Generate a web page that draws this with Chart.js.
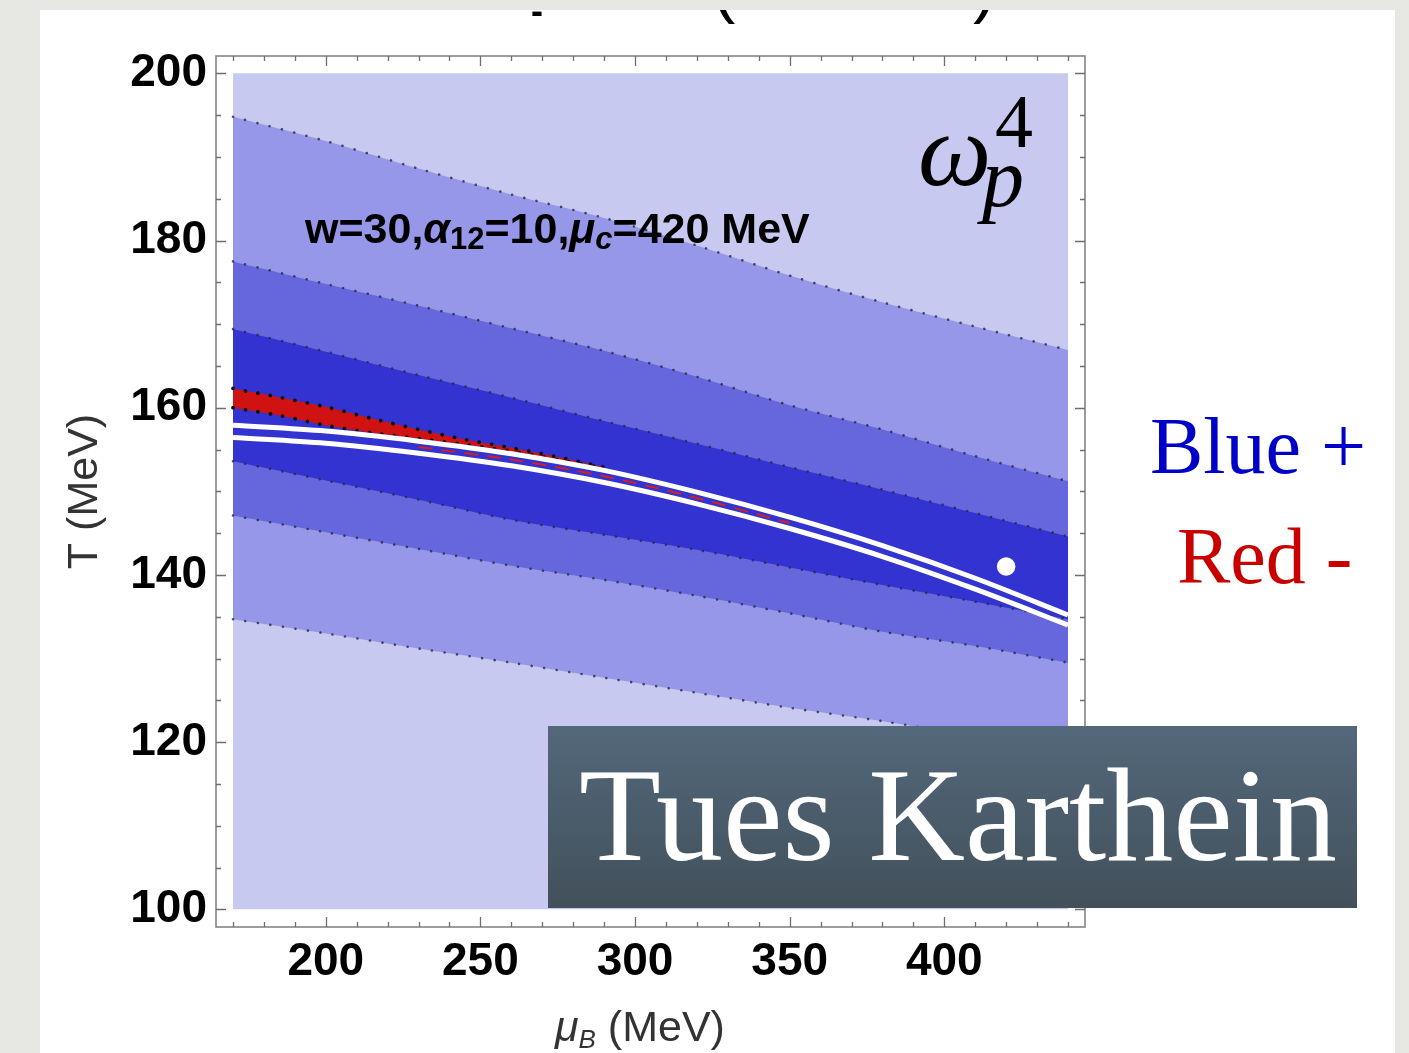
<!DOCTYPE html>
<html>
<head>
<meta charset="utf-8">
<title>omega_p^4 contour</title>
<script src="https://cdn.jsdelivr.net/npm/chart.js@4.4.1/dist/chart.umd.min.js"></script>
<style>
html, body { margin: 0; padding: 0; }
body { width: 1409px; height: 1053px; background: #e7e7e3; position: relative; overflow: hidden; }
#card { position: absolute; left: 40px; top: 10px; width: 1355px; height: 1043px; background: #fff; }
#plot { position: absolute; left: 0; top: 0; }
</style>
</head>
<body>
<div id="card"></div>
<canvas id="plot" width="1409" height="1053"></canvas>
<script>
// contour edges: T (MeV) at each mu_B (MeV)
var mu = [170, 200, 230, 260, 290, 320, 350, 380, 410, 440];
var edge1 = [194.8, 191.9, 188.6, 185.5, 182.7, 179.4, 175.8, 172.6, 169.7, 166.9];
var edge2 = [177.5, 174.8, 172.2, 169.5, 166.8, 163.7, 160.3, 157.4, 154.2, 151.2];
var edge3 = [169.4, 166.7, 163.9, 161.2, 158.4, 155.7, 152.9, 150.2, 147.4, 144.6];
var edge4 = [153.6, 151.3, 149.0, 146.6, 144.8, 143.0, 140.9, 138.8, 136.8, 134.7];
var edge5 = [147.1, 145.1, 143.1, 141.1, 139.4, 137.5, 135.4, 133.2, 131.5, 129.5];
var edge6 = [134.7, 133.0, 131.2, 129.5, 127.7, 125.9, 124.1, 122.5, 120.7, 119.0];
var whiteUpper = [157.9, 157.2, 156.0, 154.5, 152.5, 149.9, 146.9, 143.5, 139.6, 135.2];
var whiteLower = [156.45, 155.75, 154.55, 153.05, 151.05, 148.5, 145.55, 142.2, 138.3, 134.0];
// red (negative) sliver
var muRed = [170, 185, 200, 215, 230, 245, 260, 275, 290];
var redTop = [162.3, 161.25, 160.1, 158.7, 157.4, 156.2, 155.2, 154.1, 152.9];
var redBottom = [160.0, 159.07, 157.9, 157.0, 156.3, 155.6, 154.8, 153.8, 152.8];
var muGap = [230, 260, 290, 320, 350];
var redGap = [155.3, 153.8, 151.8, 149.2, 146.2];
var critical = {mu: 420, T: 141};
var muRange = [170, 440];
var TRange = [100, 200];
var xTicks = [200, 250, 300, 350, 400];
var yTicks = [100, 120, 140, 160, 180, 200];

var SANS = "'Liberation Sans', Arial, sans-serif";
var SERIF = "'Liberation Serif', 'Times New Roman', serif";
var lightest = '#c8c9f1', light = '#9697e9', medium = '#6666dd', dark = '#3333d2', red = '#d01212';

function pts(xs, ys) {
  return xs.map(function(x, i) { return {x: x, y: ys[i]}; });
}
function edge(xs, ys, fillTo, color, order) {
  return {
    data: pts(xs, ys),
    fill: fillTo,
    backgroundColor: color,
    borderColor: 'rgba(40,40,60,0.8)',
    borderWidth: 2.6,
    borderDash: [0.1, 12.5],
    borderCapStyle: 'round',
    pointRadius: 0,
    tension: 0.3,
    order: order
  };
}

var sets = [];
sets.push({ // 0: plot background
  data: pts(muRange, [TRange[1], TRange[1]]), fill: {value: TRange[0]},
  backgroundColor: lightest, borderWidth: 0, pointRadius: 0, order: 100
});
sets.push(edge(mu, edge1, 6, light, 90));   // 1
sets.push(edge(mu, edge2, 5, medium, 80));  // 2
sets.push(edge(mu, edge3, 4, dark, 70));    // 3
sets.push(edge(mu, edge4, false, dark, 60)); // 4
sets.push(edge(mu, edge5, false, dark, 60)); // 5
sets.push(edge(mu, edge6, false, dark, 60)); // 6
var rt = edge(muRed, redTop, 8, red, 50);   // 7
rt.borderColor = '#111'; rt.borderWidth = 3.8;
sets.push(rt);
var rb = edge(muRed, redBottom, false, red, 45); // 8
rb.borderColor = '#111'; rb.borderWidth = 3.8;
sets.push(rb);
sets.push({data: pts(mu, whiteUpper), borderColor: '#fff', borderWidth: 5, pointRadius: 0, cubicInterpolationMode: 'monotone', fill: false, order: 30});
sets.push({data: pts(mu, whiteLower), borderColor: '#fff', borderWidth: 5, pointRadius: 0, cubicInterpolationMode: 'monotone', fill: false, order: 30});
sets.push({data: pts(muGap, redGap), borderColor: '#d42020', borderWidth: 2, borderDash: [14, 9], pointRadius: 0, cubicInterpolationMode: 'monotone', fill: false, order: 20});
sets.push({data: [{x: critical.mu, y: critical.T}], showLine: false, pointRadius: 9.3,
  pointBackgroundColor: '#fff', pointBorderColor: '#fff', pointBorderWidth: 0, order: 10});

function runText(ctx, parts, x, y) {
  parts.forEach(function(p) {
    ctx.font = p[1];
    ctx.fillText(p[0], x, y + (p[2] || 0));
    x += ctx.measureText(p[0]).width;
  });
}

var decor = {
  id: 'decor',
  afterDraw: function(chart) {
    var ctx = chart.ctx, xs = chart.scales.x, ys = chart.scales.y, a = chart.chartArea;
    ctx.save();
    // frame with inward ticks
    ctx.strokeStyle = '#858585';
    ctx.lineWidth = 1.6;
    ctx.strokeRect(a.left, a.top, a.right - a.left, a.bottom - a.top);
    ctx.strokeStyle = '#6e6e6e';
    ctx.lineWidth = 1.3;
    ctx.beginPath();
    for (var m = muRange[0]; m <= muRange[1]; m += 10) {
      var px = Math.round(xs.getPixelForValue(m)) + 0.5;
      var lx = xTicks.indexOf(m) >= 0 ? 10 : 5;
      ctx.moveTo(px, a.bottom); ctx.lineTo(px, a.bottom - lx);
      ctx.moveTo(px, a.top); ctx.lineTo(px, a.top + lx);
    }
    for (var t = TRange[0]; t <= TRange[1]; t += 5) {
      var py = Math.round(ys.getPixelForValue(t)) + 0.5;
      var ly = yTicks.indexOf(t) >= 0 ? 10 : 5;
      ctx.moveTo(a.left, py); ctx.lineTo(a.left + ly, py);
      ctx.moveTo(a.right, py); ctx.lineTo(a.right - ly, py);
    }
    ctx.stroke();

    // parameter label
    ctx.fillStyle = '#000';
    ctx.textBaseline = 'alphabetic';
    ctx.textAlign = 'left';
    runText(ctx, [
      ['w=30,', 'bold 43px ' + SANS],
      ['\u03b1', 'italic bold 43px ' + SANS],
      ['12', 'bold 31px ' + SANS, 6],
      ['=10,', 'bold 43px ' + SANS],
      ['\u03bc', 'italic bold 43px ' + SANS],
      ['c', 'italic bold 31px ' + SANS, 6],
      ['=420 MeV', 'bold 43px ' + SANS]
    ], 305, 243);

    // omega_p^4
    ctx.font = 'italic 104px ' + SERIF;
    ctx.fillText('\u03c9', 918, 185);
    ctx.font = 'italic 84px ' + SERIF;
    ctx.fillText('p', 982, 206);
    ctx.font = '76px ' + SERIF;
    ctx.fillText('4', 995, 147);

    // x axis title
    ctx.fillStyle = '#333';
    runText(ctx, [
      ['\u03bc', 'italic 43px ' + SANS],
      ['B', 'italic 26px ' + SANS, 7],
      [' (MeV)', '43px ' + SANS]
    ], 555, 1041);

    // sign legend
    ctx.font = '80px ' + SERIF;
    ctx.fillStyle = '#0000c8';
    ctx.fillText('Blue +', 1150, 473);
    ctx.fillStyle = '#c80000';
    ctx.fillText('Red -', 1177, 583);

    // name box
    var g = ctx.createLinearGradient(0, 726, 0, 908);
    g.addColorStop(0, '#53687b');
    g.addColorStop(1, '#42505a');
    ctx.fillStyle = g;
    ctx.fillRect(548, 726, 809, 182);
    ctx.fillStyle = '#fff';
    ctx.font = '134px ' + SERIF;
    ctx.textAlign = 'center';
    ctx.fillText('Tues Karthein', 958, 860);

    // cut-off slide title fragments
    ctx.beginPath();
    ctx.rect(40, 10, 1355, 40);
    ctx.clip();
    ctx.fillStyle = '#000';
    ctx.textAlign = 'left';
    ctx.font = '70px ' + SANS;
    ctx.fillText('(', 712, 9);
    ctx.fillText(')', 973, 9);
    ctx.font = 'bold 36px ' + SANS;
    ctx.fillText('-', 531, 23);
    ctx.restore();
  }
};

var tickFont = {family: SANS, size: 46, weight: 'bold'};

new Chart(document.getElementById('plot').getContext('2d'), {
  type: 'line',
  data: {datasets: sets},
  options: {
    responsive: false,
    devicePixelRatio: 1,
    animation: false,
    events: [],
    layout: {padding: {left: 40, top: 56, right: 324, bottom: 0}},
    plugins: {legend: {display: false}, tooltip: {enabled: false}},
    scales: {
      x: {
        type: 'linear',
        min: 164.503, max: 445.497,
        grid: {display: false, drawTicks: false},
        border: {display: false},
        ticks: {font: tickFont, color: '#000', padding: 8, maxRotation: 0},
        afterBuildTicks: function(s) { s.ticks = xTicks.map(function(v) { return {value: v}; }); },
        afterFit: function(s) { s.height = 126; }
      },
      y: {
        type: 'linear',
        min: 97.883, max: 202.07,
        grid: {display: false, drawTicks: false},
        border: {display: false},
        ticks: {font: tickFont, color: '#000', padding: 9},
        afterBuildTicks: function(s) { s.ticks = yTicks.map(function(v) { return {value: v}; }); },
        afterFit: function(s) { s.width = 176; },
        title: {display: true, text: 'T (MeV)', color: '#333', font: {family: SANS, size: 43}, padding: {top: 19, bottom: 0}}
      }
    }
  },
  plugins: [decor]
});
</script>
</body>
</html>
